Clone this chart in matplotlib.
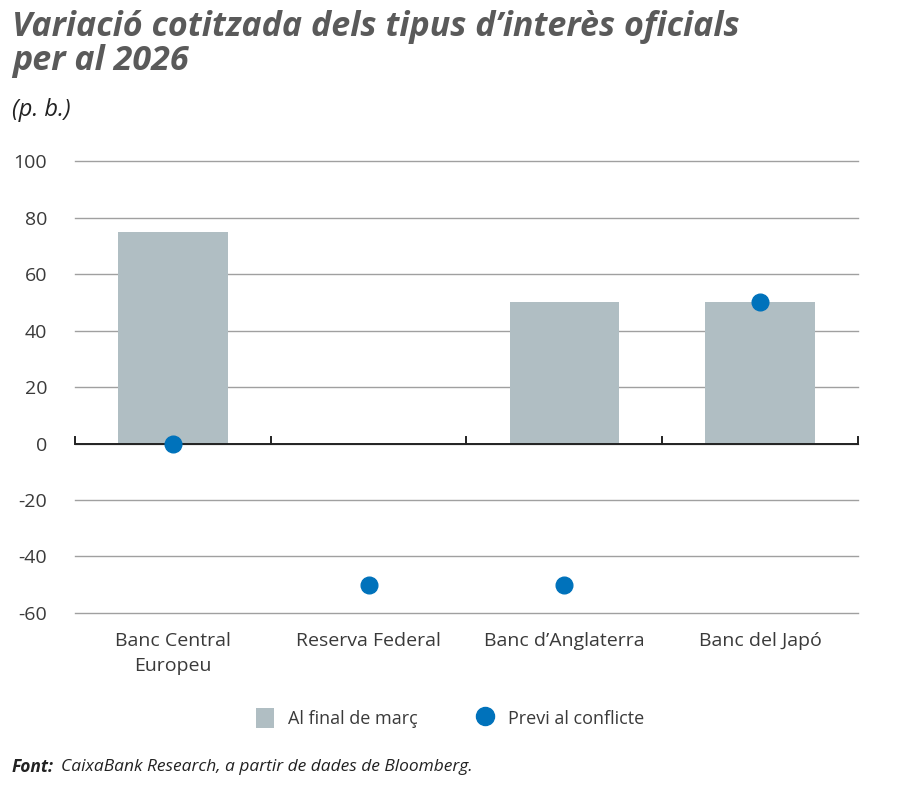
import matplotlib.pyplot as plt
from matplotlib.lines import Line2D
from matplotlib.patches import Patch

# Data (basis points)
banks = ['Banc Central\nEuropeu', 'Reserva Federal', 'Banc d\u2019Anglaterra', 'Banc del Jap\u00f3']
end_march = [75, 0, 50, 50]
pre_conflict = [0, -50, -50, 50]
yticks = [100, 80, 60, 40, 20, 0, -20, -40, -60]

bar_color = '#B0BEC3'
dot_color = '#0072BB'
text_color = '#3a3a3a'

plt.rcParams['font.family'] = ['Open Sans', 'DejaVu Sans']

fig = plt.figure(figsize=(9, 7.94), dpi=100)
ax = fig.add_axes([0.0833, 0.228, 0.870, 0.569])

x = list(range(len(banks)))
ax.bar(x, end_march, width=0.56, color=bar_color, zorder=2)
ax.plot(x, pre_conflict, 'o', color=dot_color, markersize=12, zorder=4, clip_on=False)

ax.set_xlim(-0.5, len(banks) - 0.5)
ax.set_ylim(-60, 100)
ax.set_yticks(yticks)
ax.set_yticklabels([str(v) for v in yticks])
ax.yaxis.grid(True, color='#a0a0a0', linewidth=1.0, zorder=0)
for gl in ax.get_ygridlines():
    gl.set_clip_on(False)
ax.set_axisbelow(True)
ax.tick_params(axis='y', length=0, labelsize=14, colors=text_color, pad=20)

# zero line with category separators
ax.axhline(0, color='#222222', linewidth=1.4, zorder=3)
for b in [i - 0.5 for i in range(len(banks) + 1)]:
    ax.plot([b, b], [0, 2.2], color='#222222', linewidth=1.4, zorder=3, clip_on=False)

ax.set_xticks(x)
ax.set_xticklabels(banks, linespacing=1.45)
ax.tick_params(axis='x', length=0, labelsize=14, colors=text_color, pad=14)
for s in ax.spines.values():
    s.set_visible(False)

# Title
fig.text(0.013, 0.987, 'Variaci\u00f3 cotitzada dels tipus d\u2019inter\u00e8s oficials\nper al 2026',
         fontsize=24.5, fontweight='bold', fontstyle='italic', color='#5a5a5a',
         va='top', ha='left', linespacing=1.0)
fig.text(0.013, 0.862, '(p. b.)', fontsize=17, fontstyle='italic', color='#222222',
         va='center', ha='left')

# Legend
handles = [Patch(facecolor=bar_color, edgecolor='none', label='Al final de mar\u00e7'),
           Line2D([], [], marker='o', color='none', markerfacecolor=dot_color,
                  markeredgecolor=dot_color, markersize=13, label='Previ al conflicte')]
fig.legend(handles=handles, loc='center', bbox_to_anchor=(0.5, 0.096), ncol=2,
           frameon=False, fontsize=13, handlelength=1.0, handleheight=1.3,
           columnspacing=3.2, handletextpad=0.8, labelcolor=text_color)

# Source
fig.text(0.013, 0.034, 'Font:', fontsize=12.5, fontweight='bold', fontstyle='italic',
         color='#222222', va='center', ha='left')
fig.text(0.068, 0.034, 'CaixaBank Research, a partir de dades de Bloomberg.', fontsize=12.5,
         fontstyle='italic', color='#222222', va='center', ha='left')

fig.savefig('out.png', dpi=100)
